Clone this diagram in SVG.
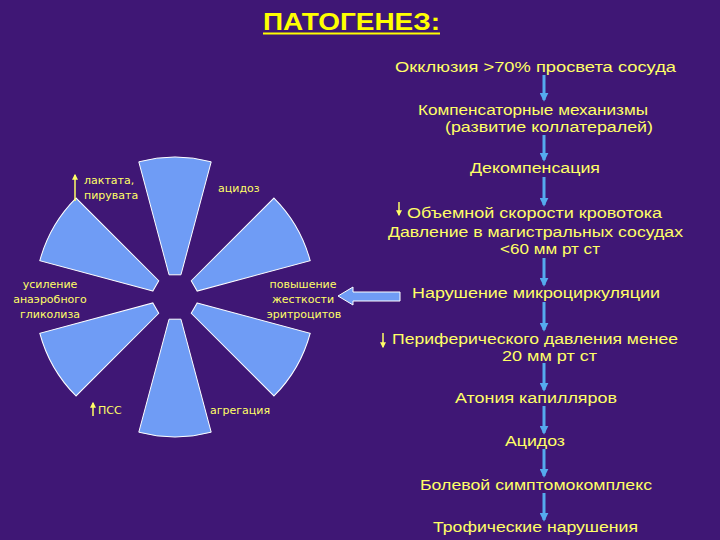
<svg xmlns="http://www.w3.org/2000/svg" width="720" height="540" viewBox="0 0 720 540">
<style>
.t{font-family:"Liberation Sans",Arial,sans-serif;font-size:15.2px;fill:#ffff66}
.s{font-family:"DejaVu Sans",Verdana,sans-serif;font-size:11px;fill:#ffff66;text-anchor:middle}
.sl{font-family:"DejaVu Sans",Verdana,sans-serif;font-size:11px;fill:#ffff66}
.petal{fill:#6f9cf5;stroke:#ffffff;stroke-width:1}
.vl{stroke:#55aaee;stroke-width:3;fill:none;marker-end:url(#ah)}
.ya{stroke:#ffff66;stroke-width:1.5;fill:none}
</style>
<defs>
<marker id="ah" viewBox="0 0 10 10" refX="8" refY="5" markerWidth="3" markerHeight="3" orient="auto">
<path d="M0,0 L10,5 L0,10 Z" fill="#55aaee"/>
</marker>
<marker id="ya" viewBox="0 0 10 10" refX="8" refY="5" markerWidth="4" markerHeight="4" orient="auto">
<path d="M0,0 L10,5 L0,10 Z" fill="#ffff66"/>
</marker>
<path id="petal" class="petal" d="M -5.95,-22.2 L -36.2,-135.2 A 140 140 0 0 1 36.2,-135.2 L 5.95,-22.2 Z"/>
</defs>
<rect x="0" y="0" width="720" height="540" fill="#3f1775"/>
<g id="title">
<text x="263" y="30" textLength="177" lengthAdjust="spacingAndGlyphs" style="font-family:'Liberation Sans',Arial,sans-serif;font-size:24px;font-weight:bold;fill:#ffff00">ПАТОГЕНЕЗ:</text>
<line x1="263" y1="33.5" x2="440" y2="33.5" stroke="#ffff00" stroke-width="2"/>
</g>
<g id="flower">
<g id="petal-top"><use href="#petal" transform="translate(175 297)"/></g>
<g id="petal-upper-right"><use href="#petal" transform="translate(175 297) rotate(60)"/></g>
<g id="petal-lower-right"><use href="#petal" transform="translate(175 297) rotate(120)"/></g>
<g id="petal-bottom"><use href="#petal" transform="translate(175 297) rotate(180)"/></g>
<g id="petal-lower-left"><use href="#petal" transform="translate(175 297) rotate(240)"/></g>
<g id="petal-upper-left"><use href="#petal" transform="translate(175 297) rotate(300)"/></g>
</g>
<g id="label-laktat">
<line class="ya" x1="75" y1="201" x2="75" y2="175" marker-end="url(#ya)"/>
<text class="sl" x="84" y="184">лактата,</text>
<text class="sl" x="84" y="199">пирувата</text>
</g>
<g id="label-acidoz-small"><text class="sl" x="218" y="192">ацидоз</text></g>
<g id="label-glikoliz">
<text class="s" x="50" y="288">усиление</text>
<text class="s" x="50" y="303">анаэробного</text>
<text class="s" x="50" y="318">гликолиза</text>
</g>
<g id="label-erythro">
<text class="s" x="303" y="288">повышение</text>
<text class="s" x="303" y="303">жесткости</text>
<text class="s" x="304" y="318">эритроцитов</text>
</g>
<g id="label-pss">
<line class="ya" x1="93" y1="416" x2="93" y2="403" marker-end="url(#ya)"/>
<text class="sl" x="98" y="414">ПСС</text>
</g>
<g id="label-agregacia"><text class="sl" x="210" y="414">агрегация</text></g>
<g id="big-arrow">
<polygon points="338,296 353,287 353,292 400,292 400,301 353,301 353,305" fill="#6f9cf5" stroke="#ffffff" stroke-width="1"/>
</g>
<g id="connectors">
<line class="vl" x1="544" y1="75" x2="544" y2="100"/>
<line class="vl" x1="544" y1="135" x2="544" y2="160"/>
<line class="vl" x1="544" y1="177" x2="544" y2="205"/>
<line class="vl" x1="544" y1="258" x2="544" y2="285"/>
<line class="vl" x1="544" y1="302" x2="544" y2="330"/>
<line class="vl" x1="544" y1="363" x2="544" y2="390"/>
<line class="vl" x1="544" y1="406" x2="544" y2="433"/>
<line class="vl" x1="544" y1="449" x2="544" y2="476"/>
<line class="vl" x1="544" y1="493" x2="544" y2="520"/>
</g>
<g id="n1"><text class="t" x="395" y="72" textLength="281" lengthAdjust="spacingAndGlyphs">Окклюзия &gt;70% просвета сосуда</text></g>
<g id="n2">
<text class="t" x="418" y="114.5" textLength="230" lengthAdjust="spacingAndGlyphs">Компенсаторные механизмы</text>
<text class="t" x="445" y="131.5" textLength="208" lengthAdjust="spacingAndGlyphs">(развитие коллатералей)</text>
</g>
<g id="n3"><text class="t" x="470" y="173" textLength="130" lengthAdjust="spacingAndGlyphs">Декомпенсация</text></g>
<g id="n4">
<line class="ya" x1="399" y1="202" x2="399" y2="215" marker-end="url(#ya)"/>
<text class="t" x="407" y="218" textLength="255" lengthAdjust="spacingAndGlyphs">Объемной скорости кровотока</text>
<text class="t" x="388" y="236.5" textLength="295" lengthAdjust="spacingAndGlyphs">Давление в магистральных сосудах</text>
<text class="t" x="500" y="253.5" textLength="100" lengthAdjust="spacingAndGlyphs">&lt;60 мм рт ст</text>
</g>
<g id="n5"><text class="t" x="412" y="298" textLength="248" lengthAdjust="spacingAndGlyphs">Нарушение микроциркуляции</text></g>
<g id="n6">
<line class="ya" x1="383" y1="333" x2="383" y2="347" marker-end="url(#ya)"/>
<text class="t" x="392" y="343.5" textLength="286" lengthAdjust="spacingAndGlyphs">Периферического давления менее</text>
<text class="t" x="502" y="360.5" textLength="95" lengthAdjust="spacingAndGlyphs">20 мм рт ст</text>
</g>
<g id="n7"><text class="t" x="455" y="403" textLength="162" lengthAdjust="spacingAndGlyphs">Атония капилляров</text></g>
<g id="n8"><text class="t" x="505" y="446" textLength="60" lengthAdjust="spacingAndGlyphs">Ацидоз</text></g>
<g id="n9"><text class="t" x="420" y="490" textLength="232" lengthAdjust="spacingAndGlyphs">Болевой симптомокомплекс</text></g>
<g id="n10"><text class="t" x="433" y="532" textLength="205" lengthAdjust="spacingAndGlyphs">Трофические нарушения</text></g>
</svg>
